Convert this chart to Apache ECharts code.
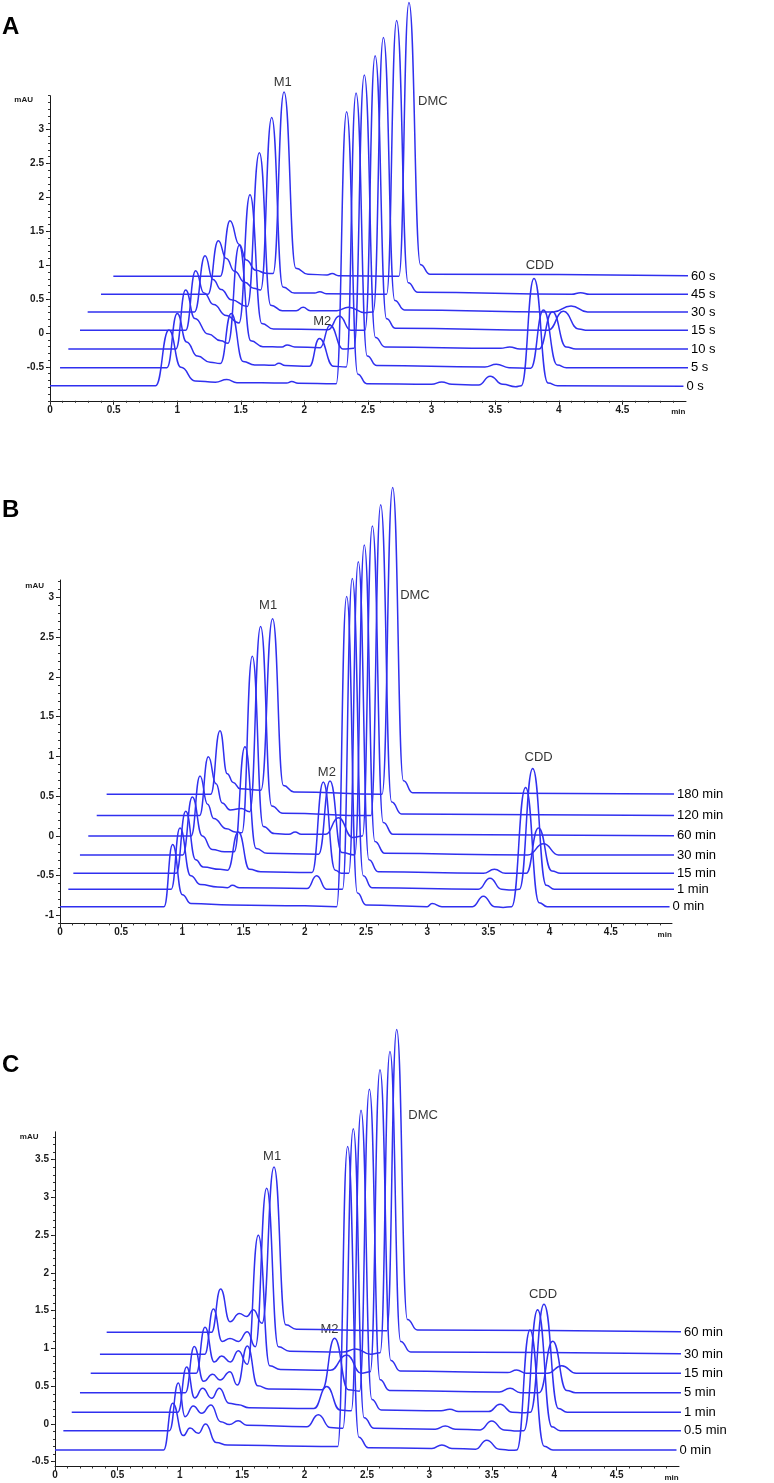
<!DOCTYPE html>
<html><head><meta charset="utf-8">
<script src="https://cdn.jsdelivr.net/npm/echarts@6/dist/echarts.min.js"></script>
<style>html,body{margin:0;padding:0;background:#fff}#chart{width:774px;height:1483px}</style>
</head><body><div id="chart"></div>
<script>
// ---------- DATA (time in min, height in mAU above each trace's own baseline) ----------
// Panel A
const A_names  = ['0 s','5 s','10 s','15 s','30 s','45 s','60 s'];
const A_shiftX = [0, 0.079, 0.144, 0.236, 0.296, 0.401, 0.498];
const A_base   = [-0.777, -0.511, -0.236, 0.039, 0.31, 0.57, 0.836];
const A_t0 = [[0,0],[0.83,0],[0.935,0.82],[1.03,0.27],[1.14,0.07],[1.30,0.05],[1.39,0.09],[1.47,0.045],[1.86,0.04],[1.90,0.06],[1.95,0.035],[2.25,0.03],[2.332,4.04],[2.42,0.17],[2.49,0.03],[3.0,0.02],[3.08,0.055],[3.16,0.02],[3.37,0.01],[3.46,0.14],[3.56,0.02],[3.66,-0.015],[3.705,0.0],[3.805,1.58],[3.915,0.04],[3.99,0.0],[4.98,-0.01]];
const A_t1 = [[0,0],[0.84,0],[0.921,0.80],[0.995,0.38],[1.08,0.17],[1.18,0.08],[1.26,0.06],[1.346,0.80],[1.44,0.09],[1.53,0.04],[1.68,0.035],[1.72,0.065],[1.77,0.03],[1.96,0.02],[2.039,0.43],[2.15,0.02],[2.25,0.01],[2.327,4.05],[2.415,0.17],[2.49,0.03],[3.34,0.01],[3.43,0.05],[3.53,0.0],[3.70,-0.01],[3.80,0.85],[3.91,0.04],[3.98,0],[4.97,0]];
const A_t2 = [[0,0],[0.845,0],[0.922,0.87],[0.995,0.45],[1.10,0.22],[1.20,0.12],[1.255,0.085],[1.344,1.53],[1.435,0.12],[1.53,0.035],[1.68,0.03],[1.72,0.06],[1.78,0.03],[1.98,0.02],[2.057,0.35],[2.16,0.0],[2.245,0.01],[2.327,4.04],[2.415,0.17],[2.49,0.03],[3.40,0.01],[3.47,0.03],[3.55,0.0],[3.70,0],[3.806,0.55],[3.915,0.03],[3.99,0],[4.98,0]];
const A_t3 = [[0,0],[0.83,0],[0.909,0.88],[0.975,0.55],[1.05,0.38],[1.15,0.22],[1.25,0.11],[1.336,2.0],[1.43,0.10],[1.52,0.02],[1.95,0.01],[2.039,0.21],[2.13,0.0],[2.24,0.0],[2.32,4.05],[2.41,0.17],[2.48,0.03],[3.68,0],[3.80,0.28],[3.92,0.02],[3.99,0],[4.935,0]];
const A_t4 = [[0,0],[0.84,0],[0.923,0.83],[0.985,0.48],[1.05,0.33],[1.13,0.18],[1.255,0.08],[1.35,2.35],[1.44,0.10],[1.53,0.02],[1.64,0.02],[1.694,0.07],[1.75,0.02],[1.96,0.02],[2.05,0.07],[2.18,-0.01],[2.245,0.0],[2.325,4.05],[2.415,0.17],[2.49,0.03],[3.66,0],[3.80,0.09],[3.93,0],[4.955,0]];
const A_t5 = [[0,0],[0.84,0],[0.922,0.79],[0.985,0.53],[1.05,0.34],[1.13,0.18],[1.20,0.09],[1.255,0.064],[1.342,2.61],[1.43,0.11],[1.52,0.02],[1.68,0.02],[1.72,0.04],[1.77,0.01],[2.245,0],[2.324,4.04],[2.415,0.17],[2.49,0.03],[3.70,0],[3.77,0.025],[3.84,0],[4.92,0]];
const A_t6 = [[0,0],[0.84,0],[0.917,0.82],[0.99,0.47],[1.045,0.24],[1.12,0.09],[1.20,0.045],[1.255,0.04],[1.342,2.72],[1.435,0.12],[1.53,0.03],[1.68,0.02],[1.72,0.04],[1.77,0.01],[2.245,0],[2.324,4.04],[2.415,0.17],[2.49,0.03],[4.95,0]];
const A_traces = [A_t0, A_t1, A_t2, A_t3, A_t4, A_t5, A_t6];
const A_notes = [['M1',1.83,3.69],['DMC',3.01,3.41],['M2',2.14,0.17],['CDD',3.85,0.99]];
const A_yTicks = [-0.5,0,0.5,1,1.5,2,2.5,3];

// Panel B
const B_names  = ['0 min','1 min','15 min','30 min','60 min','120 min','180 min'];
const B_shiftX = [0, 0.068, 0.109, 0.163, 0.231, 0.30, 0.381];
const B_base   = [-0.889, -0.671, -0.470, -0.239, 0.0, 0.256, 0.524];
const B_t0 = [[0,0],[0.85,0],[0.92,0.78],[1.0,0.15],[1.07,0.04],[1.40,0.02],[2.0,0.01],[2.26,0],[2.342,3.90],[2.43,0.17],[2.50,0.02],[3.0,0.0],[3.04,0.04],[3.12,0.0],[3.37,0],[3.459,0.13],[3.55,0],[3.62,-0.01],[3.69,0.0],[3.804,1.50],[3.915,0.05],[3.98,0],[4.98,0]];
const B_t1 = [[0,0],[0.84,0],[0.912,0.77],[1.0,0.17],[1.08,0.06],[1.22,0.03],[1.30,0.02],[1.34,0.05],[1.40,0.02],[1.95,0.01],[2.029,0.17],[2.11,0.0],[2.24,0],[2.32,3.91],[2.41,0.17],[2.48,0.02],[3.35,0],[3.445,0.14],[3.54,0.0],[3.62,-0.01],[3.685,0],[3.794,1.52],[3.905,0.05],[3.97,0],[4.952,0]];
const B_t2 = [[0,0],[0.84,0],[0.918,0.78],[1.0,0.17],[1.06,0.08],[1.20,0.05],[1.26,0.04],[1.348,0.52],[1.44,0.05],[1.53,0.02],[1.95,0.01],[2.042,1.15],[2.14,0.04],[2.19,0.0],[2.25,0],[2.328,3.92],[2.415,0.17],[2.49,0.02],[3.35,0],[3.44,0.05],[3.53,0],[3.70,0],[3.80,0.57],[3.91,0.03],[3.98,0],[4.971,0]];
const B_t3 = [[0,0],[0.84,0],[0.918,0.73],[1.0,0.24],[1.08,0.07],[1.18,0.04],[1.26,0.04],[1.348,1.36],[1.44,0.08],[1.53,0.02],[1.95,0.01],[2.043,0.93],[2.14,0.03],[2.245,0],[2.323,3.90],[2.41,0.17],[2.49,0.02],[3.66,0],[3.787,0.14],[3.91,0],[4.967,0]];
const B_t4 = [[0,0],[0.84,0],[0.913,0.755],[0.975,0.40],[1.025,0.22],[1.13,0.09],[1.20,0.05],[1.255,0.04],[1.34,2.26],[1.43,0.12],[1.52,0.03],[1.64,0.02],[1.69,0.05],[1.74,0.02],[1.94,0.02],[2.043,0.23],[2.16,-0.02],[2.24,0],[2.321,3.90],[2.41,0.17],[2.49,0.02],[4.969,0]];
const B_t5 = [[0,0],[0.84,0],[0.912,0.74],[0.975,0.40],[1.025,0.16],[1.09,0.07],[1.18,0.09],[1.25,0.05],[1.339,2.38],[1.43,0.12],[1.52,0.03],[2.24,0],[2.32,3.91],[2.41,0.17],[2.49,0.02],[4.97,0]];
const B_t6 = [[0,0],[0.85,0],[0.926,0.80],[0.985,0.26],[1.035,0.15],[1.09,0.07],[1.26,0.05],[1.356,2.21],[1.445,0.11],[1.53,0.03],[2.25,0],[2.337,3.86],[2.425,0.17],[2.50,0.02],[4.979,0]];
const B_traces = [B_t0, B_t1, B_t2, B_t3, B_t4, B_t5, B_t6];
const B_notes = [['M1',1.70,2.90],['DMC',2.90,3.02],['M2',2.18,0.80],['CDD',3.91,0.99]];
const B_yTicks = [-1,-0.5,0,0.5,1,1.5,2,2.5,3];

// Panel C
const C_names  = ['0 min','0.5 min','1 min','5 min','15 min','30 min','60 min'];
const C_shiftX = [0, 0.067, 0.134, 0.20, 0.286, 0.36, 0.414];
const C_base   = [-0.344, -0.088, 0.155, 0.415, 0.671, 0.923, 1.214];
const C_t0 = [[0,0],[0.87,0],[0.943,0.62],[1.028,0.19],[1.082,0.29],[1.148,0.22],[1.207,0.344],[1.29,0.10],[1.38,0.065],[2.0,0.05],[2.265,0.045],[2.345,4.02],[2.435,0.17],[2.51,0.03],[3.02,0.02],[3.10,0.066],[3.18,0.02],[3.37,0.01],[3.459,0.13],[3.56,0.01],[3.66,-0.005],[3.70,0.0],[3.806,1.59],[3.92,0.05],[3.99,0],[4.98,0]];
const C_t1 = [[0,0],[0.85,0],[0.921,0.63],[0.975,0.185],[1.041,0.326],[1.108,0.229],[1.183,0.34],[1.26,0.118],[1.33,0.08],[1.40,0.13],[1.47,0.07],[1.95,0.05],[2.043,0.21],[2.14,0.04],[2.24,0.03],[2.323,4.0],[2.41,0.17],[2.49,0.03],[2.98,0.02],[3.06,0.062],[3.14,0.02],[3.34,0.01],[3.432,0.128],[3.53,0.01],[3.64,-0.005],[3.69,0.0],[3.80,1.60],[3.915,0.05],[3.98,0],[4.983,0]];
const C_t2 = [[0,0],[0.85,0],[0.921,0.60],[0.985,0.19],[1.049,0.318],[1.121,0.185],[1.183,0.318],[1.26,0.12],[1.335,0.10],[1.42,0.06],[1.94,0.05],[2.043,0.34],[2.15,0.03],[2.24,0.02],[2.318,4.0],[2.405,0.17],[2.48,0.03],[2.96,0.02],[3.03,0.04],[3.10,0.01],[3.34,0.01],[3.432,0.105],[3.53,0.0],[3.62,-0.005],[3.675,0.0],[3.784,1.43],[3.90,0.05],[3.97,0],[4.966,0]];
const C_t3 = [[0,0],[0.845,0],[0.916,0.61],[0.99,0.15],[1.063,0.243],[1.122,0.168],[1.202,0.278],[1.261,0.10],[1.341,0.618],[1.425,0.09],[1.51,0.05],[1.94,0.04],[2.04,0.72],[2.15,0.04],[2.24,0.02],[2.319,4.02],[2.405,0.17],[2.48,0.03],[3.36,0.01],[3.446,0.057],[3.53,0.0],[3.68,0],[3.788,0.68],[3.90,0.03],[3.97,0],[4.96,0]];
const C_t4 = [[0,0],[0.845,0],[0.916,0.61],[0.99,0.15],[1.049,0.23],[1.12,0.15],[1.183,0.30],[1.255,0.12],[1.343,1.83],[1.435,0.10],[1.52,0.05],[1.92,0.04],[2.051,0.243],[2.17,0.0],[2.24,0.02],[2.318,4.02],[2.405,0.17],[2.48,0.03],[3.34,0.01],[3.413,0.044],[3.49,0],[3.66,0],[3.774,0.10],[3.89,0],[4.964,0]];
const C_t5 = [[0,0],[0.84,0],[0.909,0.60],[0.98,0.17],[1.042,0.21],[1.11,0.17],[1.181,0.30],[1.245,0.10],[1.336,2.20],[1.43,0.10],[1.52,0.04],[1.95,0.03],[2.05,0.07],[2.17,0.0],[2.245,0.02],[2.324,4.01],[2.41,0.17],[2.49,0.03],[4.93,0]];
const C_t6 = [[0,0],[0.84,0],[0.913,0.574],[0.988,0.14],[1.063,0.25],[1.122,0.21],[1.175,0.30],[1.245,0.12],[1.341,2.19],[1.435,0.10],[1.52,0.04],[2.245,0.02],[2.324,4.01],[2.41,0.17],[2.49,0.03],[4.956,0]];
const C_traces = [C_t0, C_t1, C_t2, C_t3, C_t4, C_t5, C_t6];
const C_notes = [['M1',1.74,3.55],['DMC',2.95,4.09],['M2',2.20,1.25],['CDD',3.91,1.72]];
const C_yTicks = [-0.5,0,0.5,1,1.5,2,2.5,3,3.5];

const X_ticks = [0,0.5,1,1.5,2,2.5,3,3.5,4,4.5];
const X_unitAt = 4.94;

// ---------- LAYOUT / STYLE ----------
const LINE = '#3030ef';
const FONT = '"Liberation Sans", Arial, sans-serif';
const panels = [
  {letter:'A', names:A_names, sx:A_shiftX, base:A_base, traces:A_traces, notes:A_notes, yTicks:A_yTicks,
   grid:{left:50, top:95.7, width:636, height:305.1}, yMin:-1, yMax:3.5, letterY:27, mau:[33,100]},
  {letter:'B', names:B_names, sx:B_shiftX, base:B_base, traces:B_traces, notes:B_notes, yTicks:B_yTicks,
   grid:{left:60, top:580, width:612, height:343.4}, yMin:-1.1, yMax:3.22, letterY:510, mau:[44,586]},
  {letter:'C', names:C_names, sx:C_shiftX, base:C_base, traces:C_traces, notes:C_notes, yTicks:C_yTicks,
   grid:{left:55, top:1131.8, width:624, height:334.7}, yMin:-0.563, yMax:3.87, letterY:1065, mau:[38.5,1137]}
];

function minorTicks(lo, hi){
  const out=[]; for(let k=Math.ceil(lo*10-1e-9); k<=Math.floor(hi*10+1e-9); k++) out.push(k/10); return out;
}

const grids=[], xAxes=[], yAxes=[], series=[], graphic=[];
panels.forEach((p,i)=>{
  grids.push(Object.assign({containLabel:false}, p.grid));
  const xMajor = X_ticks.concat([X_unitAt]);
  xAxes.push({gridIndex:i, type:'value', min:0, max:5, position:'bottom',
    axisLine:{show:true, onZero:false, lineStyle:{color:'#1a1a1a', width:1}},
    axisTick:{show:true, customValues:X_ticks, length:4, lineStyle:{color:'#1a1a1a'}},
    axisLabel:{show:true, customValues:xMajor, margin:4, color:'#1a1a1a', fontSize:10, fontWeight:'bold', fontFamily:FONT,
      formatter:(v)=> Math.abs(v-X_unitAt)<1e-6 ? '{u|min}' : String(v),
      rich:{u:{fontSize:8, fontWeight:'bold', fontFamily:FONT, color:'#1a1a1a', padding:[3,0,0,0]}}},
    splitLine:{show:false}});
  yAxes.push({gridIndex:i, type:'value', min:p.yMin, max:p.yMax, position:'left',
    axisLine:{show:true, onZero:false, lineStyle:{color:'#1a1a1a', width:1}},
    axisTick:{show:true, customValues:p.yTicks, length:4, lineStyle:{color:'#1a1a1a'}},
    axisLabel:{show:true, customValues:p.yTicks, margin:6, color:'#1a1a1a', fontSize:10, fontWeight:'bold', fontFamily:FONT},
    splitLine:{show:false}});
});
// minor tick axes
panels.forEach((p,i)=>{
  xAxes.push({gridIndex:i, type:'value', min:0, max:5, position:'bottom',
    axisLine:{show:false, onZero:false}, axisLabel:{show:false}, splitLine:{show:false},
    axisTick:{show:true, customValues:minorTicks(0,4.9), length:2, lineStyle:{color:'#333'}}});
  yAxes.push({gridIndex:i, type:'value', min:p.yMin, max:p.yMax, position:'left',
    axisLine:{show:false, onZero:false}, axisLabel:{show:false}, splitLine:{show:false},
    axisTick:{show:true, customValues:minorTicks(p.yMin,p.yMax), length:2, lineStyle:{color:'#333'}}});
});

panels.forEach((p,i)=>{
  p.traces.forEach((tr,k)=>{
    series.push({
      type:'line', name:p.names[k], xAxisIndex:i, yAxisIndex:i,
      data: tr.map(([x,y])=>[x + p.sx[k], y + p.base[k]]),
      showSymbol:false, symbol:'none', smooth:0.5, smoothMonotone:'x', clip:false,
      lineStyle:{color:LINE, width:1.5}, silent:true, animation:false,
      emphasis:{disabled:true},
      endLabel:{show:true, formatter:'{a}', color:'#000', fontSize:13, fontFamily:FONT, distance:3}
    });
  });
  series.push({
    type:'scatter', xAxisIndex:i, yAxisIndex:i, symbolSize:1, clip:false, silent:true, animation:false,
    itemStyle:{color:'rgba(0,0,0,0)'},
    data: p.notes.map(n=>({name:n[0], value:[n[1], n[2]]})),
    label:{show:true, position:'inside', formatter:'{b}', color:'#000', fontSize:13, fontFamily:FONT}
  });
  graphic.push({type:'text', x:2, y:p.letterY, style:{text:p.letter, font:'bold 24px '+FONT, fill:'#000', textAlign:'left', textVerticalAlign:'middle'}});
  graphic.push({type:'text', x:p.mau[0], y:p.mau[1], style:{text:'mAU', font:'bold 8px '+FONT, fill:'#1a1a1a', textAlign:'right', textVerticalAlign:'middle'}});
});

const chart = echarts.init(document.getElementById('chart'), null, {renderer:'canvas'});
chart.setOption({backgroundColor:'#fff', animation:false, grid:grids, xAxis:xAxes, yAxis:yAxes, series:series, graphic:graphic});
</script></body></html>
